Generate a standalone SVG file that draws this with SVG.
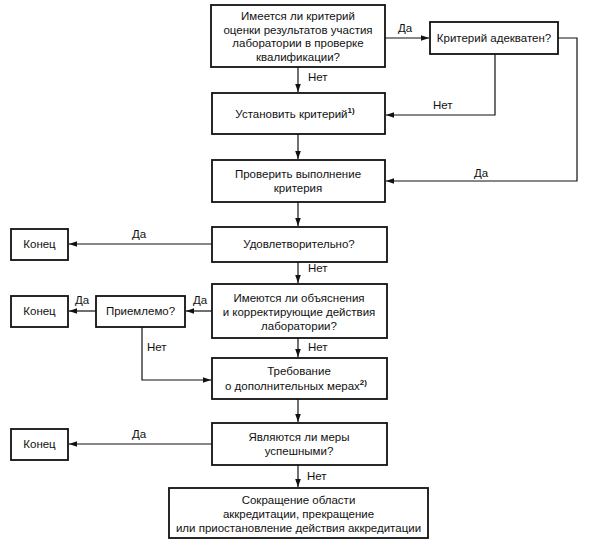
<svg xmlns="http://www.w3.org/2000/svg" width="590" height="542" viewBox="0 0 590 542">
<style>
.box{fill:#fff;stroke:#111;stroke-width:1.8}
.t{font-family:"Liberation Sans",Arial,sans-serif;font-size:11.5px;fill:#111;text-anchor:middle}
.l{font-family:"Liberation Sans",Arial,sans-serif;font-size:11.5px;fill:#111}
.sup{font-size:8px;font-weight:bold}
.c{fill:none;stroke:#111;stroke-width:1.2}
</style>
<defs>
<marker id="ar" markerWidth="9" markerHeight="7" refX="8" refY="3.5" orient="auto" markerUnits="userSpaceOnUse">
<path d="M0,0.7 L8,3.5 L0,6.3 Z" fill="#111"/>
</marker>
</defs>
<rect width="590" height="542" fill="#fff"/>
<g id="connectors">
<path class="c" d="M298,67 V92" marker-end="url(#ar)"/>
<path class="c" d="M385,38 H429" marker-end="url(#ar)"/>
<path class="c" d="M495,54 V115 H386" marker-end="url(#ar)"/>
<path class="c" d="M558,38 H577 V181 H386" marker-end="url(#ar)"/>
<path class="c" d="M298,134 V159" marker-end="url(#ar)"/>
<path class="c" d="M298,202 V226" marker-end="url(#ar)"/>
<path class="c" d="M212,244 H69" marker-end="url(#ar)"/>
<path class="c" d="M298,262 V283" marker-end="url(#ar)"/>
<path class="c" d="M212,311 H186" marker-end="url(#ar)"/>
<path class="c" d="M96,311 H69" marker-end="url(#ar)"/>
<path class="c" d="M142,327 V380 H211" marker-end="url(#ar)"/>
<path class="c" d="M298,338 V357" marker-end="url(#ar)"/>
<path class="c" d="M298,399 V422" marker-end="url(#ar)"/>
<path class="c" d="M212,444 H69" marker-end="url(#ar)"/>
<path class="c" d="M298,465 V487" marker-end="url(#ar)"/>
<text class="l" x="398" y="32">Да</text>
<text class="l" x="308" y="81">Нет</text>
<text class="l" x="433" y="109">Нет</text>
<text class="l" x="474" y="177">Да</text>
<text class="l" x="132" y="238">Да</text>
<text class="l" x="308" y="272">Нет</text>
<text class="l" x="193" y="304">Да</text>
<text class="l" x="75" y="304">Да</text>
<text class="l" x="147" y="351">Нет</text>
<text class="l" x="308" y="351">Нет</text>
<text class="l" x="132" y="438">Да</text>
<text class="l" x="307" y="480">Нет</text>
</g>
<g id="q1">
<rect class="box" x="211" y="5" width="174" height="62"/>
<text class="t" x="298" y="20">Имеется ли критерий</text>
<text class="t" x="298" y="33.5">оценки результатов участия</text>
<text class="t" x="298" y="47">лаборатории в проверке</text>
<text class="t" x="298" y="60.5">квалификации?</text>
</g>
<g id="q2">
<rect class="box" x="430" y="22" width="128" height="32"/>
<text class="t" x="494" y="42">Критерий адекватен?</text>
</g>
<g id="set">
<rect class="box" x="212" y="93" width="173" height="41"/>
<text class="t" x="295" y="118">Установить критерий<tspan class="sup" dy="-5">1)</tspan></text>
</g>
<g id="check">
<rect class="box" x="212" y="160" width="173" height="42"/>
<text class="t" x="298" y="178">Проверить выполнение</text>
<text class="t" x="298" y="192">критерия</text>
</g>
<g id="q3">
<rect class="box" x="212" y="227" width="175" height="35"/>
<text class="t" x="299" y="248">Удовлетворительно?</text>
</g>
<g id="end1">
<rect class="box" x="11" y="229" width="57" height="31"/>
<text class="t" x="39.5" y="248">Конец</text>
</g>
<g id="q4">
<rect class="box" x="212" y="284" width="175" height="54"/>
<text class="t" x="299" y="302">Имеются ли объяснения</text>
<text class="t" x="299" y="316">и корректирующие действия</text>
<text class="t" x="299" y="330">лаборатории?</text>
</g>
<g id="q5">
<rect class="box" x="96" y="296" width="89" height="31"/>
<text class="t" x="140.5" y="315">Приемлемо?</text>
</g>
<g id="end2">
<rect class="box" x="11" y="296" width="57" height="31"/>
<text class="t" x="39.5" y="315">Конец</text>
</g>
<g id="req">
<rect class="box" x="212" y="358" width="175" height="41"/>
<text class="t" x="299" y="375">Требование</text>
<text class="t" x="296" y="390">о дополнительных мерах<tspan class="sup" dy="-5">2)</tspan></text>
</g>
<g id="q6">
<rect class="box" x="212" y="423" width="175" height="42"/>
<text class="t" x="299" y="441">Являются ли меры</text>
<text class="t" x="299" y="455">успешными?</text>
</g>
<g id="end3">
<rect class="box" x="11" y="429" width="57" height="31"/>
<text class="t" x="39.5" y="448">Конец</text>
</g>
<g id="final">
<rect class="box" x="169" y="488" width="259" height="50"/>
<text class="t" x="298.5" y="504">Сокращение области</text>
<text class="t" x="298.5" y="518">аккредитации, прекращение</text>
<text class="t" x="298.5" y="532">или приостановление действия аккредитации</text>
</g>
</svg>
